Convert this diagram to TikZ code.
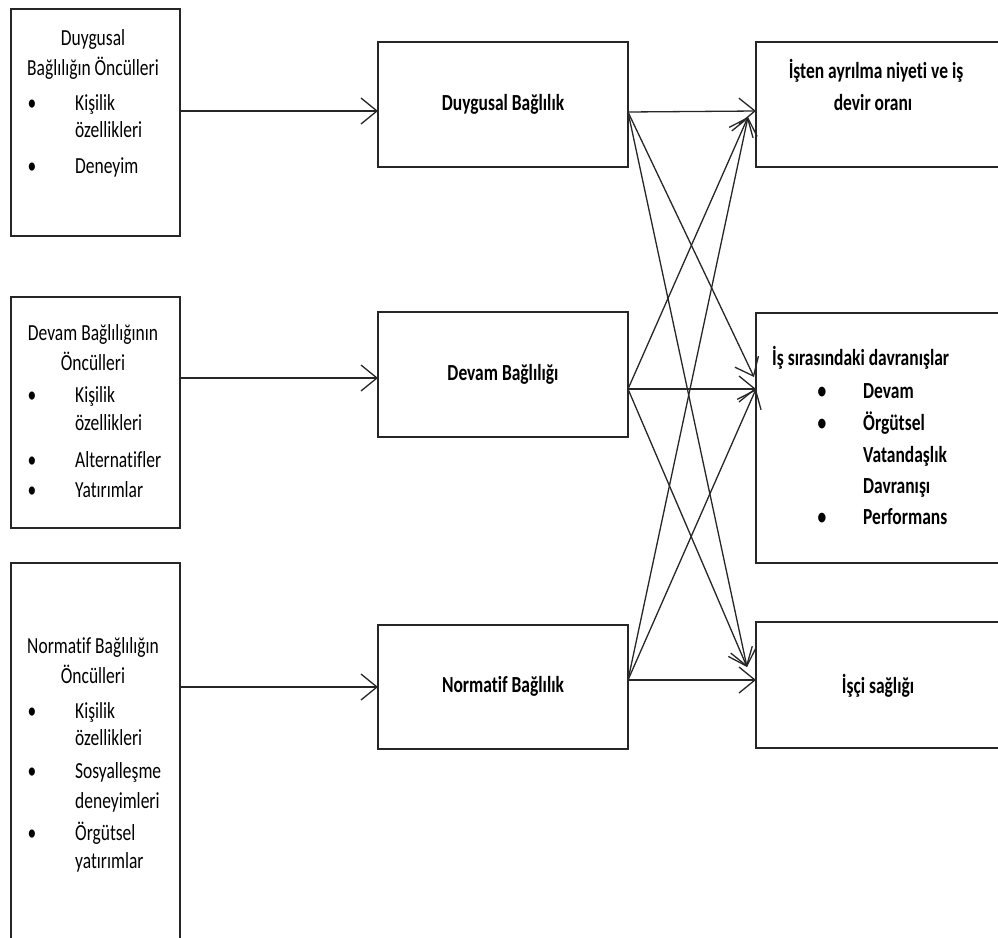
\documentclass[tikz,border=0pt]{standalone}
\usepackage{fontspec}
\setmainfont{Carlito}[FakeStretch=0.76, Ligatures={NoCommon}]
\usetikzlibrary{arrows.meta}
\begin{document}
\begin{tikzpicture}[x=1pt,y=-1pt,
  box/.style={draw=black!85, line width=1.6pt, rectangle, inner sep=0pt},
  arr/.style={draw=black!85, line width=1.3pt, -{Straight Barb[length=16pt,width=26pt,line width=1.3pt]}},
  txt/.style={inner sep=0pt, font=\fontsize{23}{28}\selectfont},
  btxt/.style={txt, font=\fontsize{23}{28}\selectfont\bfseries},
  hd/.style={txt, anchor=base},
  it/.style={txt, anchor=base west},
  bul/.style={txt, anchor=base}]
\useasboundingbox (0,0) rectangle (998,937);

% antecedent boxes (left column)
\node[box, minimum width=169pt, minimum height=227pt] (L1) at (95.5,122.5) {};
\node[box, minimum width=169pt, minimum height=231pt] (L2) at (95.5,412.5) {};
\node[box, minimum width=169pt, minimum height=382pt] (L3) at (95.5,754) {};

% commitment boxes (middle column)
\node[box, minimum width=250pt, minimum height=125pt] (M1) at (503,104.5) {};
\node[box, minimum width=250pt, minimum height=125pt] (M2) at (503,374.5) {};
\node[box, minimum width=250pt, minimum height=124pt] (M3) at (503,687) {};

% outcome boxes (right column)
\node[box, minimum width=254pt, minimum height=125pt] (R1) at (883,104.5) {};
\node[box, minimum width=254pt, minimum height=250pt] (R2) at (883,438) {};
\node[box, minimum width=254pt, minimum height=126pt] (R3) at (883,685) {};

% texts of the first antecedent box
\node[hd] (a1) at (93,45) {Duygusal};
\node[hd] (a2) at (93,75) {Bağlılığın Öncülleri};
\node[bul] (a3b) at (32,110) {\textbullet};
\node[it] (a3) at (75,110) {Kişilik};
\node[it] (a4) at (75,137) {özellikleri};
\node[bul] (a5b) at (32,173) {\textbullet};
\node[it] (a5) at (75,173) {Deneyim};

% texts of the second antecedent box
\node[hd] (b1) at (93,340) {Devam Bağlılığının};
\node[hd] (b2) at (93,370) {Öncülleri};
\node[bul] (b3b) at (32,402) {\textbullet};
\node[it] (b3) at (75,402) {Kişilik};
\node[it] (b4) at (75,430) {özellikleri};
\node[bul] (b5b) at (32,467) {\textbullet};
\node[it] (b5) at (75,467) {Alternatifler};
\node[bul] (b6b) at (32,497) {\textbullet};
\node[it] (b6) at (75,497) {Yatırımlar};

% texts of the third antecedent box
\node[hd] (c1) at (93,653) {Normatif Bağlılığın};
\node[hd] (c2) at (93,683) {Öncülleri};
\node[bul] (c3b) at (32,718) {\textbullet};
\node[it] (c3) at (75,718) {Kişilik};
\node[it] (c4) at (75,745) {özellikleri};
\node[bul] (c5b) at (32,778) {\textbullet};
\node[it] (c5) at (75,778) {Sosyalleşme};
\node[it] (c6) at (75,808) {deneyimleri};
\node[bul] (c7b) at (32,840) {\textbullet};
\node[it] (c7) at (75,840) {Örgütsel};
\node[it] (c8) at (75,868) {yatırımlar};

% commitment labels
\node[btxt, anchor=base] (m1t) at (503,110) {Duygusal Bağlılık};
\node[btxt, anchor=base] (m2t) at (503,380) {Devam Bağlılığı};
\node[btxt, anchor=base] (m3t) at (503,692) {Normatif Bağlılık};

% outcome labels
\node[btxt, anchor=base] (r1t) at (876,78) {İşten ayrılma niyeti ve iş};
\node[btxt, anchor=base] (r1u) at (873,110) {devir oranı};
\node[btxt, anchor=base west] (r2t) at (772,365) {İş sırasındaki davranışlar};
\node[btxt, anchor=base] (r2ab) at (822,398) {\textbullet};
\node[btxt, anchor=base west] (r2a) at (863,398) {Devam};
\node[btxt, anchor=base] (r2bb) at (822,430) {\textbullet};
\node[btxt, anchor=base west] (r2b) at (863,430) {Örgütsel};
\node[btxt, anchor=base west] (r2c) at (863,462) {Vatandaşlık};
\node[btxt, anchor=base west] (r2d) at (863,493) {Davranışı};
\node[btxt, anchor=base] (r2eb) at (822,524) {\textbullet};
\node[btxt, anchor=base west] (r2e) at (863,524) {Performans};
\node[btxt, anchor=base] (r3t) at (878,693) {İşçi sağlığı};

% connector ports
\coordinate (m1i) at (378,111);
\coordinate (m2i) at (378,378);
\coordinate (m3i) at (378,687);
\coordinate (m1o) at (628,112);
\coordinate (m2o) at (628,389);
\coordinate (m3o) at (628,680);
\coordinate (r1a) at (756,111);
\coordinate (r1b) at (748,117);
\coordinate (r2a) at (756,389);
\coordinate (r2b) at (754,377);
\coordinate (r3a) at (756,680);
\coordinate (r3b) at (747,667);

% antecedents to commitments
\draw[arr] (L1.east |- m1i) -- (m1i);
\draw[arr] (L2.east |- m2i) -- (m2i);
\draw[arr] (L3.east |- m3i) -- (m3i);

% commitments to outcomes
\draw[arr] (m1o) -- (r1a);
\draw[arr] (m1o) -- (r2b);
\draw[arr] (m1o) -- (r3b);
\draw[arr] (m2o) -- (r1b);
\draw[arr] (m2o) -- (r2a);
\draw[arr] (m2o) -- (r3b);
\draw[arr] (m3o) -- (r1b);
\draw[arr] (m3o) -- (r2a);
\draw[arr] (m3o) -- (r3a);
\end{tikzpicture}
\end{document}
